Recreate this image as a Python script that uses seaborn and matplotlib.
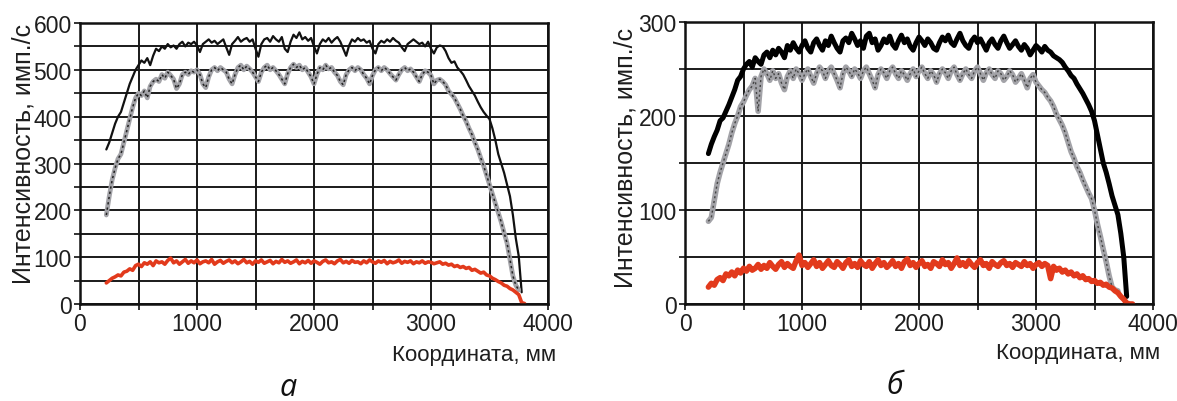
import numpy as np
import matplotlib
matplotlib.use("Agg")
import matplotlib.pyplot as plt
import seaborn as sns
from matplotlib.ticker import MultipleLocator

# ---------------- data ----------------
x_start_a = 225
x_start_b = 200
x_step = 25

# panel а
black_a = [330, 345, 365, 385, 400, 410, 430, 450, 470, 485, 500, 510, 520, 515, 525, 510, 530, 545, 540, 550,
           545, 555, 548, 552, 545, 555, 560, 550, 558, 555, 560, 552, 538, 555, 560, 565, 558, 562, 555, 560,
           565, 548, 532, 555, 562, 570, 560, 565, 568, 560, 565, 545, 528, 555, 565, 568, 560, 572, 565, 560,
           570, 545, 538, 560, 575, 568, 580, 565, 570, 562, 568, 550, 535, 555, 565, 560, 568, 558, 565, 570,
           560, 545, 530, 552, 565, 560, 568, 562, 565, 558, 562, 545, 535, 555, 562, 558, 565, 560, 568, 562,
           558, 548, 540, 555, 560, 565, 560, 555, 558, 550, 560, 545, 535, 548, 552, 550, 540, 525, 515, 518,
           505, 498, 490, 478, 465, 455, 445, 432, 420, 410, 402, 395, 375, 350, 320, 300, 280, 255, 230, 190,
           140, 102, 25]
gray_a = [190, 230, 265, 290, 310, 320, 345, 370, 395, 420, 440, 450, 445, 455, 440, 465, 475, 480, 475, 490,
          482, 495, 488, 480, 460, 470, 490, 495, 490, 498, 495, 500, 490, 470, 462, 485, 500, 505, 498, 505,
          500, 495, 480, 470, 490, 505, 510, 500, 508, 502, 495, 485, 475, 495, 505, 510, 500, 505, 498, 490,
          480, 470, 492, 505, 512, 505, 510, 500, 505, 495, 485, 470, 490, 505, 500, 510, 502, 505, 495, 488,
          475, 468, 490, 500, 505, 498, 505, 500, 490, 482, 470, 488, 500, 505, 498, 505, 500, 492, 485, 478,
          490, 500, 505, 498, 502, 495, 485, 475, 490, 498, 495, 488, 470, 478, 480, 475, 468, 455, 448, 440,
          428, 416, 402, 390, 375, 362, 345, 330, 312, 295, 275, 255, 235, 215, 195, 175, 152, 130, 95, 60,
          40, 30]
red_a = [45, 50, 55, 58, 62, 60, 68, 70, 75, 72, 82, 85, 80, 88, 85, 90, 82, 92, 88, 90,
         85, 93, 98, 88, 92, 85, 90, 95, 87, 92, 88, 94, 86, 90, 92, 88, 95, 85, 90, 93,
         87, 91, 94, 88, 92, 86, 90, 95, 88, 91, 85, 92, 89, 94, 87, 90, 93, 86, 91, 88,
         95, 89, 92, 87, 90, 94, 86, 91, 88, 93, 87, 92, 89, 85, 91, 94, 88, 90, 86, 92,
         95, 88, 91, 87, 93, 89, 90, 86, 92, 88, 94, 90, 87, 92, 89, 93, 86, 91, 88, 90,
         94, 87, 91, 89, 92, 86, 90, 88, 92, 87, 90, 89, 86, 88, 90, 85, 87, 83, 85, 80,
         82, 78, 80, 76, 78, 72, 74, 70, 66, 68, 62, 60, 55, 52, 48, 45, 40, 38, 33, 30,
         25, 20, 3, 1]

# panel б
black_b = [160, 170, 178, 185, 195, 198, 205, 212, 220, 228, 238, 242, 250, 255, 258, 252, 262, 258, 255, 265,
           268, 262, 270, 265, 272, 268, 262, 275, 270, 278, 272, 268, 275, 280, 272, 268, 278, 282, 275, 270,
           280, 275, 285, 278, 272, 268, 280, 283, 278, 288, 282, 275, 280, 272, 285, 288, 278, 282, 270, 275,
           282, 278, 285, 276, 272, 280, 286, 278, 282, 274, 270, 278, 284, 280, 275, 282, 278, 272, 270, 278,
           284, 280, 286, 278, 275, 282, 288, 280, 275, 272, 280, 284, 278, 282, 276, 270, 278, 282, 276, 272,
           280, 285, 278, 272, 276, 280, 274, 270, 276, 272, 265, 270, 275, 272, 268, 274, 270, 268, 264, 262,
           260, 257, 252, 248, 243, 240, 234, 229, 224, 218, 212, 205, 195, 180, 165, 150, 140, 128, 115, 105,
           95, 75, 50, 8]
gray_b = [88, 92, 110, 128, 140, 150, 160, 170, 182, 192, 200, 210, 215, 222, 228, 232, 240, 205, 242, 250,
          245, 238, 248, 240, 245, 235, 228, 242, 248, 240, 250, 245, 238, 245, 250, 242, 235, 245, 252, 248,
          240, 248, 252, 245, 238, 230, 245, 252, 248, 242, 250, 246, 240, 248, 252, 245, 238, 230, 244, 250,
          246, 240, 248, 252, 245, 240, 248, 244, 238, 245, 250, 242, 248, 252, 245, 240, 248, 244, 236, 245,
          250, 246, 240, 248, 252, 244, 238, 245, 250, 244, 240, 248, 252, 245, 238, 246, 250, 244, 240, 248,
          245, 238, 242, 248, 244, 236, 240, 245, 238, 230, 240, 244, 236, 232, 228, 225, 220, 216, 210, 202,
          196, 190, 182, 172, 162, 155, 146, 140, 132, 125, 118, 112, 100, 85, 72, 58, 45, 30, 18, 15,
          14]
red_b = [18, 22, 20, 26, 28, 25, 32, 30, 34, 30, 36, 33, 38, 35, 40, 36, 38, 42, 37, 41,
         38, 44, 40, 37, 42, 45, 39, 43, 40, 38, 46, 52, 41, 44, 39, 43, 47, 40, 44, 38,
         42, 46, 41, 39, 45, 42, 38, 44, 47, 40, 43, 39, 46, 42, 40, 45, 38, 43, 47, 41,
         44, 39, 42, 46, 40, 43, 38, 45, 48, 41, 44, 39, 43, 46, 40, 42, 38, 45, 43, 40,
         47, 42, 44, 38, 43, 49, 41, 44, 40, 46, 42, 39, 44, 47, 41, 43, 38, 45, 42, 40,
         44, 46, 41, 43, 39, 44, 42, 40, 45, 41, 43, 38, 42, 44, 40, 43, 41, 27, 40, 36,
         38, 34, 36, 32, 34, 30, 32, 28, 30, 26, 27, 24, 25, 22, 23, 20, 21, 18, 17, 14,
         12, 8, 5, 1, 0, 0]

x_ticks = [0, 1000, 2000, 3000, 4000]
y_ticks_a = [0, 100, 200, 300, 400, 500, 600]
y_ticks_b = [0, 100, 200, 300]
y_label = "Интенсивность, имп./с"
x_label = "Координата, мм"
panel_letters = ["а", "б"]

# ---------------- style ----------------
sns.set_style("white")
plt.rcParams["font.family"] = ["Liberation Sans", "DejaVu Sans"]

RED = "#e23a1c"
GRAY = "#a3a3a8"
TXT = "#1e1e1e"

fig = plt.figure(figsize=(11.77, 4.02), dpi=100)
ax_a = fig.add_axes([80 / 1177, 97 / 402, 468 / 1177, 281 / 402])
ax_b = fig.add_axes([685 / 1177, 97 / 402, 468 / 1177, 282 / 402])


def xs(start, arr):
    return start + x_step * np.arange(len(arr))


def style_axes(ax, ymax, yticks, ystep_minor):
    ax.set_xlim(0, 4000)
    ax.set_ylim(0, ymax)
    ax.set_xticks(x_ticks)
    ax.set_yticks(yticks)
    ax.xaxis.set_minor_locator(MultipleLocator(500))
    ax.yaxis.set_minor_locator(MultipleLocator(ystep_minor))
    ax.grid(True, which="both", color="#1a1a1a", linewidth=1.4)
    ax.set_axisbelow(True)
    for s in ax.spines.values():
        s.set_color("#111111")
        s.set_linewidth(1.8)
    ax.tick_params(axis="both", which="both", direction="out", length=4, width=1.2,
                   color="#111111", labelsize=16.5, labelcolor=TXT, pad=2, bottom=True, left=True)
    ax.set_xlabel("")
    ax.set_ylabel("")


# panel а
sns.lineplot(x=xs(x_start_a, black_a), y=black_a, ax=ax_a, color="#111111", linewidth=1.6,
             estimator=None, sort=False)
sns.lineplot(x=xs(x_start_a, gray_a), y=gray_a, ax=ax_a, color=GRAY, linewidth=3.4,
             estimator=None, sort=False)
sns.lineplot(x=xs(x_start_a, gray_a), y=gray_a, ax=ax_a, color="#222222", linewidth=1.1,
             linestyle=(0, (1.5, 2.0)), estimator=None, sort=False)
sns.lineplot(x=xs(x_start_a, red_a), y=red_a, ax=ax_a, color=RED, linewidth=2.6,
             estimator=None, sort=False)
style_axes(ax_a, 600, y_ticks_a, 50)

# panel б
sns.lineplot(x=xs(x_start_b, black_b), y=black_b, ax=ax_b, color="#000000", linewidth=3.6,
             estimator=None, sort=False)
sns.lineplot(x=xs(x_start_b, gray_b), y=gray_b, ax=ax_b, color=GRAY, linewidth=4.0,
             estimator=None, sort=False)
sns.lineplot(x=xs(x_start_b, gray_b), y=gray_b, ax=ax_b, color="#444444", linewidth=1.0,
             linestyle=(0, (1.5, 2.0)), estimator=None, sort=False)
sns.lineplot(x=xs(x_start_b, red_b), y=red_b, ax=ax_b, color=RED, linewidth=4.0,
             estimator=None, sort=False)
style_axes(ax_b, 300, y_ticks_b, 50)

# labels
fig.text(24 / 1177, 1 - 154 / 402, y_label, rotation=90, ha="center", va="center",
         fontsize=18, color=TXT)
fig.text(626 / 1177, 1 - 158 / 402, y_label, rotation=90, ha="center", va="center",
         fontsize=18, color=TXT)
fig.text(556 / 1177, 1 - 356 / 402, x_label, ha="right", va="center", fontsize=16, color=TXT)
fig.text(1160 / 1177, 1 - 354 / 402, x_label, ha="right", va="center", fontsize=16, color=TXT)
fig.text(288 / 1177, 1 - 388 / 402, panel_letters[0], ha="center", va="center", fontsize=22,
         style="italic", family=["Open Sans", "DejaVu Sans"], color="#111111")
fig.text(895 / 1177, 1 - 386 / 402, panel_letters[1], ha="center", va="center", fontsize=22,
         style="italic", family=["Open Sans", "DejaVu Sans"], color="#111111")

fig.savefig("out.png", dpi=100, facecolor="white")
